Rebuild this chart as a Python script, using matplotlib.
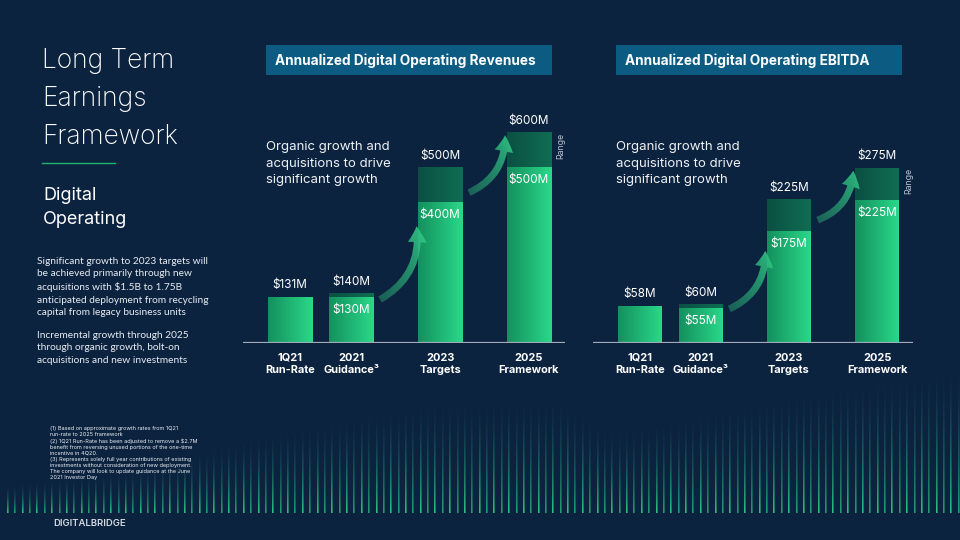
import numpy as np
import matplotlib
matplotlib.use("Agg")
import matplotlib.pyplot as plt
from matplotlib.patches import FancyArrowPatch, Rectangle
from matplotlib.lines import Line2D
from matplotlib.colors import LinearSegmentedColormap, to_rgb

# ---- data ----
categories = ["1Q21\nRun-Rate", "2021\nGuidance\u00b3", "2023\nTargets", "2025\nFramework"]
rev_low = [131, 130, 400, 500]
rev_high = [131, 140, 500, 600]
ebitda_low = [58, 55, 175, 225]
ebitda_high = [58, 60, 225, 275]

left_title = "Annualized Digital Operating Revenues"
right_title = "Annualized Digital Operating EBITDA"
note = "Organic growth and\nacquisitions to drive\nsignificant growth"

# ---- layout / style ----
W, H = 960, 540
BG = "#0c2340"
slots = [0, 1, 2.45, 3.9]
bar_w = 0.72

plt.rcParams["font.family"] = ["Inter", "DejaVu Sans"]

fig = plt.figure(figsize=(9.6, 5.4), dpi=100, facecolor=BG)


def fx(x):
    return x / W


def fy(y):
    return 1 - y / H


# decorative stripes along the bottom
bg = fig.add_axes([0, 0, 1, 1], zorder=-5)
bg.set_facecolor(BG)
prof_x = [0, 130, 250, 420, 560, 610, 700, 800, 960]
prof_top = [485, 468, 435, 400, 395, 430, 410, 388, 362]
img = np.zeros((H, W, 4))
green = np.array(to_rgb("#2bd68a"))
rows = np.arange(H)
k = 0
x = 7.0
while x < W:
    top = np.interp(x, prof_x, prof_top)
    a = np.clip((rows - top) / (512 - top), 0, 1) ** 1.7
    a[rows > 512] = 0
    amax = 0.9 if k % 2 == 0 else 0.7
    c = int(round(x))
    for cc in (c, c + 1):
        if cc < W:
            img[:, cc, :3] = green
            img[:, cc, 3] = a * amax * (1.0 if cc == c else 0.6)
    x += 7.37
    k += 1
bg.imshow(img, extent=[0, W, H, 0], aspect="auto", interpolation="nearest")
bg.set_xlim(0, W)
bg.set_ylim(H, 0)
bg.axis("off")

main_cmap = LinearSegmentedColormap.from_list("m", ["#14905e", "#2ad889"])
range_cmap = LinearSegmentedColormap.from_list("r", ["#0b5043", "#106d52"])
grad = np.linspace(0, 1, 64).reshape(1, -1)


def draw_chart(ax, low, high, ymax):
    base = ax.bar(slots, low, width=bar_w, color="none", zorder=2)
    rng = ax.bar(slots, np.subtract(high, low), bottom=low, width=bar_w,
                 color="none", zorder=2)
    for bars, cmap in ((base, main_cmap), (rng, range_cmap)):
        for b in bars:
            if b.get_height() <= 0:
                continue
            x0, y0 = b.get_x(), b.get_y()
            ax.imshow(grad, cmap=cmap, aspect="auto", zorder=2,
                      extent=[x0, x0 + b.get_width(), y0, y0 + b.get_height()])

    for xs, lo, hi in zip(slots, low, high):
        ax.annotate(f"${hi}M", (xs, hi), xytext=(0, 4), textcoords="offset points",
                    ha="center", va="bottom", color="white", fontsize=8.5)
        if hi != lo:
            ax.annotate(f"${lo}M", (xs, lo), xytext=(0, -5), textcoords="offset points",
                        ha="center", va="top", color="white", fontsize=8.5)
    ax.annotate("Range", (slots[-1] + bar_w / 2, high[-1]), xytext=(7, 0),
                textcoords="offset points", rotation=90, ha="center", va="top",
                fontsize=6.3, color="#b8c1cc")

    # growth arrows
    tail_c = np.array(to_rgb("#1d6657"))
    head_c = np.array(to_rgb("#36dc8e"))
    for i, j, yh in ((1, 2, 0.85 * low[2]), (2, 3, high[3])):
        pa = (slots[i] + bar_w / 2 + 0.07, 0.85 * high[i])
        pb = (slots[j] - bar_w / 2 - 0.03, yh)
        arr = FancyArrowPatch(pa, pb, connectionstyle="arc3,rad=0.35",
                              arrowstyle="simple,head_length=1.15,head_width=1.35,tail_width=0.5",
                              mutation_scale=10, facecolor="none", edgecolor="none",
                              zorder=3)
        ax.add_patch(arr)
        n = 64
        gx, gy = np.meshgrid(np.linspace(0, 1, n), np.linspace(0, 1, n))
        t = (gx + gy) / 2
        rgba = np.zeros((n, n, 4))
        rgba[..., :3] = tail_c + t[..., None] * (head_c - tail_c)
        rgba[..., 3] = 0.5 + 0.5 * t
        im = ax.imshow(rgba, origin="lower", aspect="auto", zorder=3,
                       extent=[pa[0] - 0.3, pb[0] + 0.3,
                               pa[1] - 0.12 * ymax, pb[1] + 0.06 * ymax])
        im.set_clip_path(arr)

    ax.axhline(0, color="#a3abb6", lw=1.6, zorder=4)
    ax.set_xticks(slots, categories, fontweight="bold", fontsize=7.9,
                  color="white", linespacing=1.2)
    ax.tick_params(length=0, pad=7.5)
    ax.set_yticks([])
    for s in ax.spines.values():
        s.set_visible(False)
    ax.set_facecolor("none")
    ax.set_xlim(-0.77, 4.49)
    ax.set_ylim(0, ymax)


ax_y0 = fy(342.5)
ax_h = 242.5 / H
ax1 = fig.add_axes([fx(243), ax_y0, 322 / W, ax_h])
ax2 = fig.add_axes([fx(593), ax_y0, 320 / W, ax_h])
draw_chart(ax1, rev_low, rev_high, 242.5 / 0.35)
draw_chart(ax2, ebitda_low, ebitda_high, 242.5 / 0.635)

# header boxes
for x0, title in ((266, left_title), (616, right_title)):
    fig.add_artist(Rectangle((fx(x0), fy(75)), 286 / W, 30 / H,
                             transform=fig.transFigure, facecolor="#0b5b82",
                             edgecolor="none"))
    fig.text(fx(x0 + 9), fy(60.5), title, ha="left", va="center",
             color="white", fontsize=9.8, fontweight="bold")
    fig.text(fx(x0), fy(141), note, ha="left", va="top", color="#eef1f4",
             fontsize=9.5, linespacing=1.5)

# left panel
fig.text(fx(42), fy(48), "Long Term\nEarnings\nFramework", ha="left", va="top",
         color="white", fontsize=19, fontweight="light", linespacing=1.6)
fig.add_artist(Line2D([fx(42), fx(115)], [fy(163), fy(163)],
                      transform=fig.transFigure, color="#1db36b", lw=1))
fig.text(fx(43), fy(187), "Digital\nOperating", ha="left", va="top",
         color="white", fontsize=13, linespacing=1.55)

body_font = ["Lato", "DejaVu Sans"]
fig.text(fx(37), fy(257),
         "Significant growth to 2023 targets will\nbe achieved primarily through new\n"
         "acquisitions with $1.5B to 1.75B\nanticipated deployment from recycling\n"
         "capital from legacy business units",
         ha="left", va="top", color="#e8ecf0", fontsize=7.3, family=body_font,
         linespacing=1.5)
fig.text(fx(37), fy(331),
         "Incremental growth through 2025\nthrough organic growth, bolt-on\n"
         "acquisitions and new investments",
         ha="left", va="top", color="#e8ecf0", fontsize=7.3, family=body_font,
         linespacing=1.5)

fig.text(fx(50), fy(426),
         "(1) Based on approximate growth rates from 1Q21\nrun-rate to 2025 framework\n"
         "(2) 1Q21 Run-Rate has been adjusted to remove a $2.7M\n"
         "benefit from reversing unused portions of the one-time\nincentive in 4Q20.\n"
         "(3) Represents solely full year contributions of existing\n"
         "investments without consideration of new deployment.\n"
         "The company will look to update guidance at the June\n2021 Investor Day",
         ha="left", va="top", color="#e8ecf0", fontsize=4.0, linespacing=1.25)

fig.text(fx(53), fy(523.5), "DIGITALBRIDGE", ha="left", va="center",
         color="#d5dae0", fontsize=6.8, fontweight="semibold")

fig.savefig("out.png", dpi=100, facecolor=BG)
